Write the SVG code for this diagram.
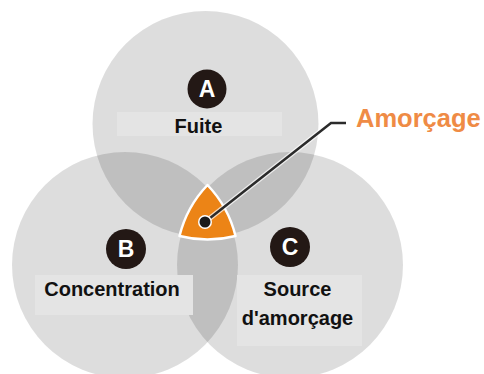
<svg xmlns="http://www.w3.org/2000/svg" width="484" height="374" viewBox="0 0 484 374">
<style>
.ring{fill:#000;fill-opacity:0.135}
.lbg{fill:#e4e4e4}
.lbl{font-family:"Liberation Sans",Arial,sans-serif;font-weight:bold;font-size:20px;fill:#111;text-anchor:middle}
.badge{fill:#231815}
.bt{font-family:"Liberation Sans",Arial,sans-serif;font-weight:bold;font-size:23px;fill:#fff;text-anchor:middle}
</style>
<rect width="484" height="374" fill="#fff"/>
<g id="circleA"><circle class="ring" cx="205.5" cy="124" r="113"/></g>
<g id="circleB"><circle class="ring" cx="125" cy="265" r="113"/></g>
<g id="circleC"><circle class="ring" cx="290" cy="265" r="113"/></g>
<g id="nodeA">
<rect class="lbg" x="117" y="112" width="165" height="24"/>
<circle class="badge" cx="207" cy="89" r="19.5"/>
<text class="bt" x="207" y="97">A</text>
<text class="lbl" x="198.5" y="133">Fuite</text>
</g>
<g id="nodeB">
<rect class="lbg" x="35" y="275" width="158" height="40"/>
<circle class="badge" cx="126" cy="249" r="20"/>
<text class="bt" x="126" y="257">B</text>
<text class="lbl" x="112" y="296">Concentration</text>
</g>
<g id="nodeC">
<rect class="lbg" x="237" y="275" width="125" height="71"/>
<circle class="badge" cx="290" cy="247" r="20"/>
<text class="bt" x="290" y="255">C</text>
<text class="lbl" x="297.5" y="296">Source</text>
<text class="lbl" x="297.5" y="325">d'amorçage</text>
</g>
<g id="intersection">
<path d="M207.5,185 A113,113 0 0 1 235.5,236 A113,113 0 0 1 179.5,236 A113,113 0 0 1 207.5,185 Z" fill="#ec8416" stroke="#fff" stroke-width="2.5" stroke-linejoin="round"/>
</g>
<g id="connectors">
<polyline points="205,222 331,123 346,123" fill="none" stroke="#fff" stroke-width="5" stroke-opacity="0.7"/>
<polyline points="205,222 331,123 346,123" fill="none" stroke="#2b2b2b" stroke-width="2.5"/>
<circle cx="205" cy="222" r="7" fill="#fff"/>
<circle cx="205" cy="222" r="5.5" fill="#1a1a1a"/>
</g>
<g id="nodeAmorcage">
<text x="356" y="127" font-family="'Liberation Sans',Arial,sans-serif" font-weight="bold" font-size="25.5" fill="#ef8b45">Amorçage</text>
</g>
</svg>
